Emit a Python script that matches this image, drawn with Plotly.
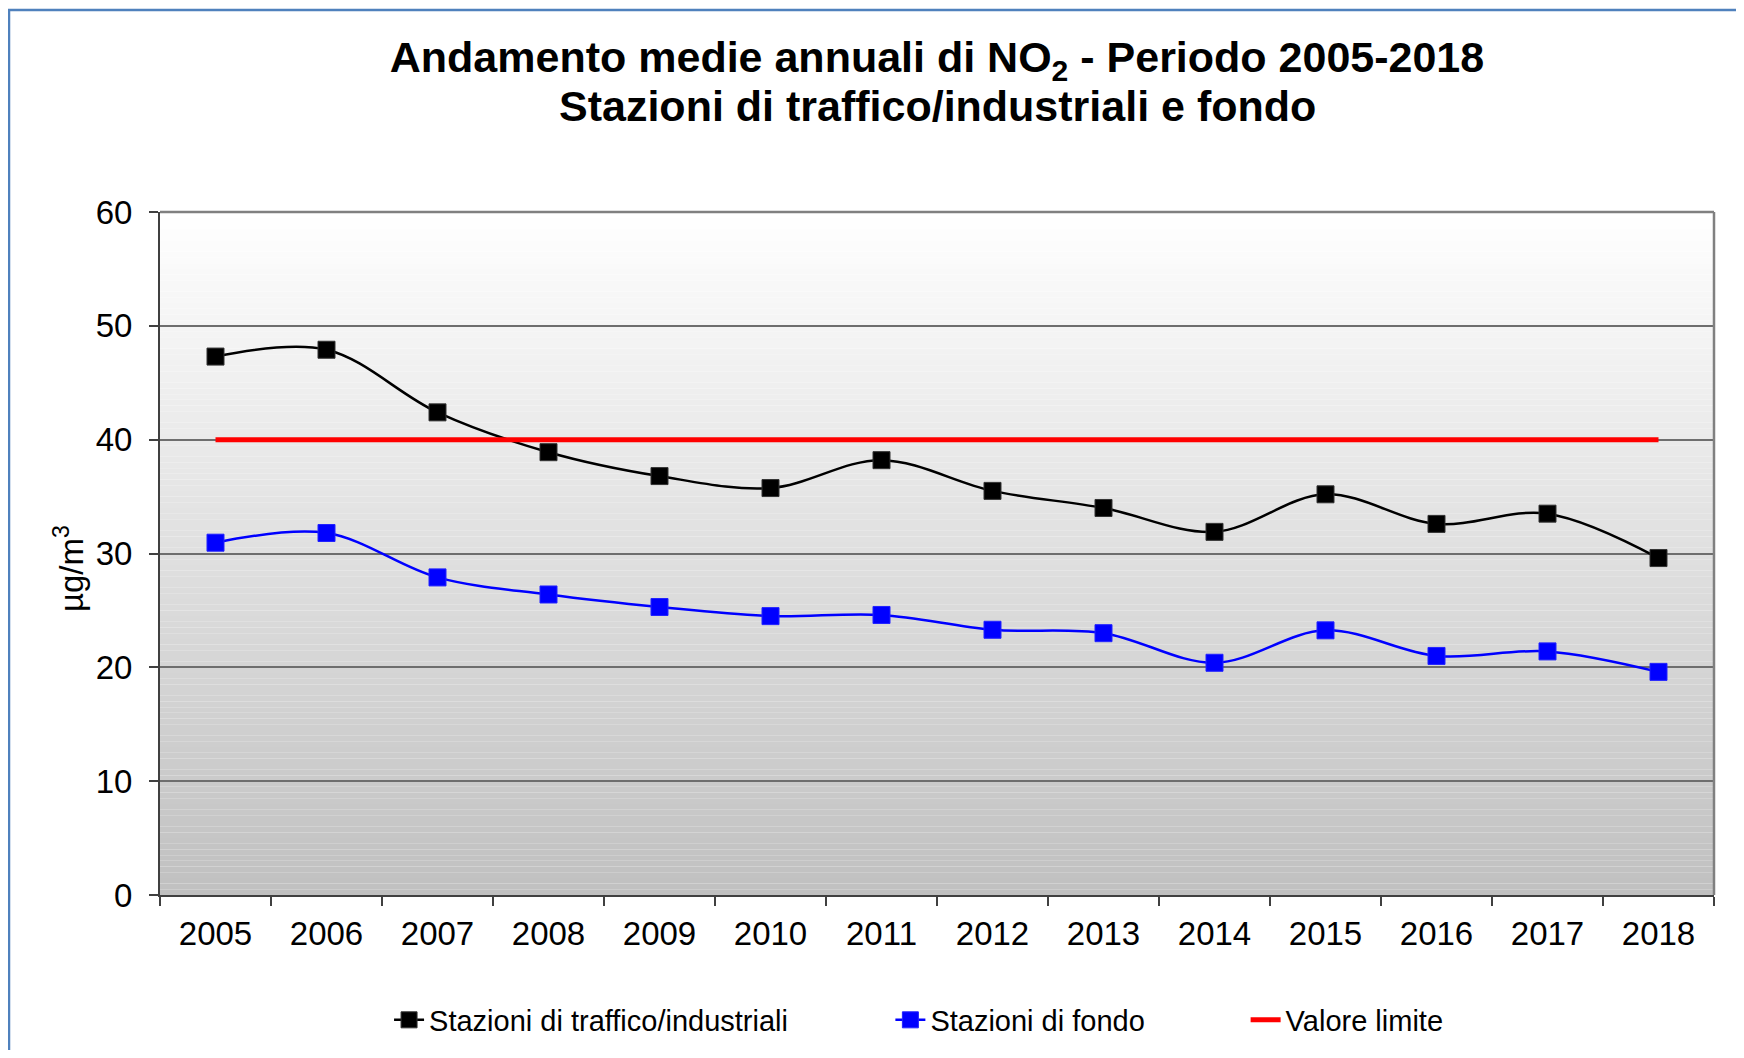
import plotly.graph_objects as go

# dati (medie annuali NO2, µg/m3)
anni = ['2005', '2006', '2007', '2008', '2009', '2010', '2011',
        '2012', '2013', '2014', '2015', '2016', '2017', '2018']
traffico = [47.3, 47.9, 42.4, 38.9, 36.8, 35.75, 38.2,
            35.5, 34.0, 31.9, 35.2, 32.6, 33.5, 29.6]
fondo = [30.95, 31.8, 27.9, 26.4, 25.3, 24.5, 24.6,
         23.3, 23.0, 20.4, 23.25, 21.0, 21.4, 19.6]
limite = [40] * len(anni)

FONT = 'Liberation Sans, Arial, sans-serif'

fig = go.Figure()

fig.add_trace(go.Scatter(
    x=anni, y=traffico, name='Stazioni di traffico/industriali',
    mode='lines+markers', line=dict(color='#000000', width=2.5, shape='spline'),
    marker=dict(symbol='square', size=17, color='#000000',
                line=dict(color='#333333', width=1)),
    legend='legend'))
fig.add_trace(go.Scatter(
    x=anni, y=fondo, name='Stazioni di fondo',
    mode='lines+markers', line=dict(color='#0000ff', width=2.5, shape='spline'),
    marker=dict(symbol='square', size=17, color='#0000ff',
                line=dict(color='#2222ff', width=1)),
    legend='legend2'))
fig.add_trace(go.Scatter(
    x=anni, y=limite, name='Valore limite',
    mode='lines', line=dict(color='#ff0000', width=5),
    legend='legend3'))

# sfondo sfumato dell'area del grafico (bianco in alto, grigio in basso)
shapes = []
n = 120
for i in range(n):
    t = (i + 0.5) / n
    v = int(round(192 + (255 - 192) * t))
    shapes.append(dict(type='rect', xref='x domain', yref='y domain',
                       x0=0, x1=1, y0=i / n, y1=(i + 1) / n,
                       fillcolor='rgb(%d,%d,%d)' % (v, v, v),
                       line=dict(width=0), layer='below'))
# bordo grigio dell'area (alto e destra)
shapes.append(dict(type='line', xref='x domain', yref='y domain',
                   x0=0, x1=1, y0=1, y1=1, line=dict(color='#808080', width=2.5)))
shapes.append(dict(type='line', xref='x domain', yref='y domain',
                   x0=1, x1=1, y0=0, y1=1, line=dict(color='#808080', width=2.5)))

PH = 683   # altezza area del grafico in px
PW = 1554  # larghezza area del grafico in px

# cornice blu del grafico
shapes.append(dict(type='rect', xref='paper', yref='paper',
                   x0=(9 - 160) / PW, x1=(1738 - 160) / PW,
                   y0=-0.3, y1=(895 - 10) / PH,
                   line=dict(color='#4f81bd', width=2.5)))

leg = dict(orientation='h', yanchor='middle', y=-0.183, xanchor='left',
           bgcolor='rgba(0,0,0,0)', font=dict(family=FONT, size=29, color='#000000'))

fig.update_layout(
    width=1736, height=1042,
    margin=dict(l=152, r=30, t=204, b=155, autoexpand=False),
    paper_bgcolor='#ffffff', plot_bgcolor='#ffffff',
    font=dict(family=FONT, color='#000000'),
    title=dict(
        text='<b>Andamento medie annuali di NO<sub>2</sub> - Periodo 2005-2018</b>',
        x=0.5, xref='paper', xanchor='center',
        y=1 - 49 / 1042, yref='container', yanchor='middle',
        font=dict(family=FONT, size=43, color='#000000')),
    annotations=[
        dict(text='<b>Stazioni di traffico/industriali e fondo</b>',
             xref='paper', yref='paper', x=0.5, y=(887 - 98) / PH,
             xanchor='center', yanchor='middle', showarrow=False,
             font=dict(family=FONT, size=43, color='#000000')),
        dict(text='µg/m<sup>3</sup>', textangle=-90,
             xref='paper', yref='paper', x=(61 - 152) / PW, y=(895 - 569) / PH,
             xanchor='center', yanchor='middle', showarrow=False,
             font=dict(family=FONT, size=33, color='#000000')),
    ],
    shapes=shapes,
    legend=dict(leg, x=0.1474),
    legend2=dict(leg, x=0.470),
    legend3=dict(leg, x=0.6986),
    showlegend=True,
)

fig.update_xaxes(
    type='category', range=[-0.5, 13.5], tickson='boundaries',
    ticks='outside', ticklen=9, tickwidth=1.5, tickcolor='#404040',
    showline=True, linecolor='#404040', linewidth=2,
    showgrid=False, zeroline=False, ticklabelstandoff=8,
    tickfont=dict(family=FONT, size=33, color='#000000'))

fig.update_yaxes(
    range=[0, 60], dtick=10, tick0=0,
    ticks='outside', ticklen=9, tickwidth=1.5, tickcolor='#404040',
    showline=True, linecolor='#404040', linewidth=2,
    showgrid=True, gridcolor='#6e6e6e', gridwidth=1.5, zeroline=False,
    ticklabelstandoff=10,
    tickfont=dict(family=FONT, size=33, color='#000000'))

fig.write_html('out.html')
